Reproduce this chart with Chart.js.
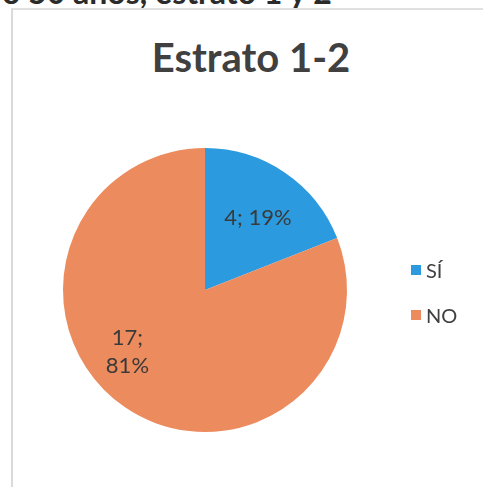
<!DOCTYPE html>
<html lang="es">
<head>
  <meta charset="UTF-8">
  <title>Estrato 1-2</title>
  <script src="https://cdn.jsdelivr.net/npm/chart.js"></script>
  <style>
    body { margin: 0; background: #fff; font-family: Lato, "Open Sans", sans-serif; }
    #page { position: relative; width: 483px; height: 487px; overflow: hidden; }
    #heading { position: absolute; left: 2px; top: -28px; font: bold 32px Lato, sans-serif; color: #2b2b2b; white-space: nowrap; }
    #frame { position: absolute; left: 11px; top: 8px; width: 480px; height: 490px; border-left: 2px solid #dadada; border-top: 2px solid #e0e0e0; }
    #title { position: absolute; left: 11px; width: 480px; top: 33px; text-align: center; font: bold 40px Lato, sans-serif; color: #404040; }
    #legend { position: absolute; left: 411px; top: 258px; font: 20px Lato, sans-serif; color: #404040; }
    #legend div { display: flex; align-items: center; height: 24px; margin-bottom: 21px; }
    #legend span.box { width: 10px; height: 10px; margin-right: 5px; display: inline-block; }
    canvas { position: absolute; left: 0; top: 0; }
  </style>
</head>
<body>
<div id="page">
  <div id="heading">o 50 años, estrato 1 y 2</div>
  <div id="frame"></div>
  <div id="title">Estrato 1-2</div>
  <canvas id="pie" width="483" height="487"></canvas>
  <div id="legend"></div>
</div>
<script>
  const categories = ['SÍ', 'NO'];
  const counts = [4, 17];
  const percents = [19, 81];
  const colors = ['#2c9ade', '#ec8b5d'];

  // label placement inside each slice: radial fraction and angle nudge (deg)
  const labelFrac = [0.63, 0.70];
  const labelNudge = [2, 17];

  // legend as plain html
  const legend = document.getElementById('legend');
  categories.forEach((c, i) => {
    const row = document.createElement('div');
    row.innerHTML = '<span class="box" style="background:' + colors[i] + '"></span>' + c;
    legend.appendChild(row);
  });

  const sliceLabels = {
    id: 'sliceLabels',
    afterDatasetsDraw(chart) {
      const ctx = chart.ctx;
      const arcs = chart.getDatasetMeta(0).data;
      ctx.save();
      ctx.fillStyle = '#3a3a3a';
      ctx.font = '22px Lato, sans-serif';
      ctx.textAlign = 'center';
      ctx.textBaseline = 'middle';
      arcs.forEach((arc, i) => {
        const p = arc.getProps(['x', 'y', 'startAngle', 'endAngle', 'outerRadius'], true);
        const mid = (p.startAngle + p.endAngle) / 2 + labelNudge[i] * Math.PI / 180;
        const r = p.outerRadius * labelFrac[i];
        const x = p.x + Math.cos(mid) * r;
        const y = p.y + Math.sin(mid) * r;
        if (i === 0) {
          ctx.fillText(counts[i] + '; ' + percents[i] + '%', x, y);
        } else {
          ctx.fillText(counts[i] + ';', x, y - 14);
          ctx.fillText(percents[i] + '%', x, y + 14);
        }
      });
      ctx.restore();
    }
  };

  new Chart(document.getElementById('pie'), {
    type: 'pie',
    data: {
      labels: categories,
      datasets: [{ data: counts, backgroundColor: colors, borderWidth: 0 }]
    },
    options: {
      responsive: false,
      animation: false,
      layout: { padding: { left: 63, right: 136, top: 148, bottom: 55 } },
      plugins: { legend: { display: false }, tooltip: { enabled: false } }
    },
    plugins: [sliceLabels]
  });
</script>
</body>
</html>
